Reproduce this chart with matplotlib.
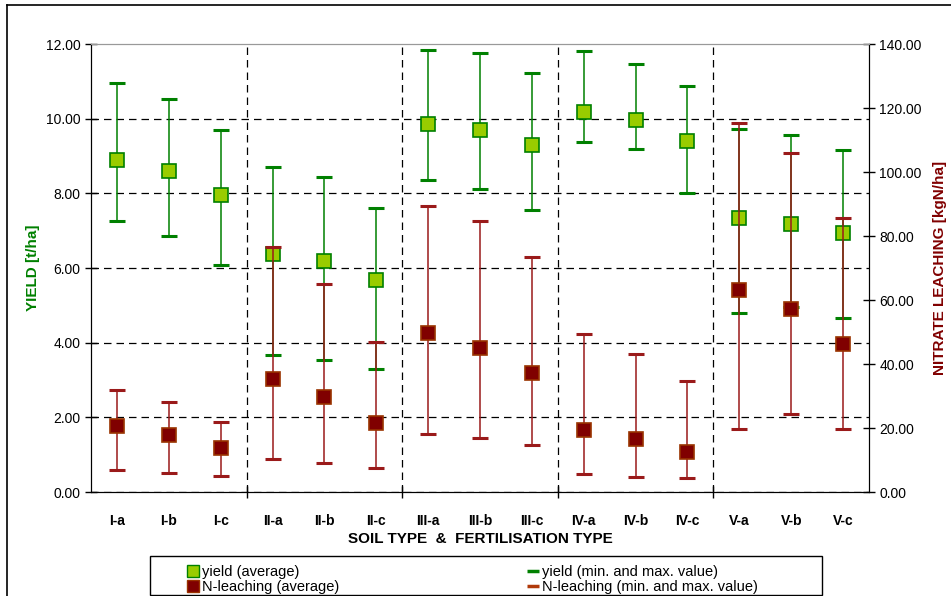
import numpy as np
import matplotlib
matplotlib.use('Agg')
import matplotlib.pyplot as plt
from matplotlib.lines import Line2D
from matplotlib.patches import Rectangle
from matplotlib.ticker import FormatStrFormatter

matplotlib.rcParams['font.family'] = ['Liberation Sans Narrow', 'Liberation Sans', 'DejaVu Sans']

# Data
categories = ['I-a', 'I-b', 'I-c', 'II-a', 'II-b', 'II-c', 'III-a', 'III-b', 'III-c',
              'IV-a', 'IV-b', 'IV-c', 'V-a', 'V-b', 'V-c']
yield_avg = [8.90, 8.61, 7.95, 6.38, 6.20, 5.69, 9.85, 9.69, 9.29,
             10.17, 9.96, 9.39, 7.33, 7.19, 6.93]
yield_max = [10.96, 10.54, 9.70, 8.70, 8.45, 7.62, 11.83, 11.77, 11.22,
             11.81, 11.47, 10.87, 9.71, 9.55, 9.17]
yield_min = [7.27, 6.86, 6.08, 3.68, 3.54, 3.29, 8.37, 8.12, 7.56,
             9.38, 9.20, 8.02, 4.80, 4.95, 4.66]
leach_avg = [20.6, 17.8, 13.6, 35.4, 29.7, 21.5, 49.6, 44.9, 37.1,
             19.4, 16.6, 12.5, 63.2, 57.2, 46.1]
leach_max = [31.8, 28.0, 22.0, 76.5, 65.0, 46.8, 89.5, 84.6, 73.3,
             49.3, 43.1, 34.7, 115.4, 105.9, 85.6]
leach_min = [6.8, 6.0, 5.1, 10.4, 9.0, 7.4, 18.0, 16.8, 14.8,
             5.5, 4.8, 4.4, 19.8, 24.5, 19.8]

green = '#008000'
lime = '#99CC00'
dark_red = '#800000'
red_line = '#9A1A1A'
red_cap = '#B03A0A'

W, H = 951, 596
fig = plt.figure(figsize=(W / 100, H / 100), dpi=100)
ax = fig.add_axes([91 / W, 1 - 492 / H, (869 - 91) / W, (492 - 44) / H])
ax2 = ax.twinx()

x = np.arange(len(categories))
ya = np.array(yield_avg)
la = np.array(leach_avg)

# yield
ax.errorbar(x, ya, yerr=[ya - np.array(yield_min), np.array(yield_max) - ya],
            fmt='none', ecolor=green, elinewidth=1.1, capsize=5.5, capthick=2.2, zorder=3)
ax.plot(x, ya, 's', ms=10, mfc=lime, mec=green, mew=1.2, ls='none', zorder=4)

# N-leaching
eb2 = ax2.errorbar(x, la, yerr=[la - np.array(leach_min), np.array(leach_max) - la],
                   fmt='none', ecolor=red_line, elinewidth=1.1, capsize=5.5, capthick=2.2, zorder=3)
for c in eb2[1]:
    c.set_color(red_cap)
ax2.plot(x, la, 's', ms=10, mfc=dark_red, mec='#993300', mew=1.2, ls='none', zorder=4)

# axes
ax.set_xlim(-0.5, len(categories) - 0.5)
ax.set_ylim(0, 12)
ax2.set_ylim(0, 140)
ax.set_yticks(np.arange(0, 12.1, 2))
ax2.set_yticks(np.arange(0, 140.1, 20))
ax.yaxis.set_major_formatter(FormatStrFormatter('%.2f'))
ax2.yaxis.set_major_formatter(FormatStrFormatter('%.2f'))

ax.set_xticks([2.5, 5.5, 8.5, 11.5])
ax.set_xticklabels([])
ax.set_xticks(x, minor=True)
ax.set_xticklabels(categories, minor=True, fontweight='bold', fontsize=10)
ax.tick_params(axis='x', which='minor', length=0, pad=16)
ax.tick_params(axis='x', which='major', direction='inout', length=9, width=1)
ax.tick_params(axis='y', direction='inout', length=9, width=1, labelsize=10, pad=3)
ax2.tick_params(axis='y', direction='inout', length=9, width=1, labelsize=10, pad=3)

ax.grid(True, which='major', color='black', linestyle=(0, (6, 4)), linewidth=0.9)
ax.set_axisbelow(True)
ax.yaxis.get_gridlines()[-1].set_visible(False)

for a in (ax, ax2):
    a.spines['top'].set_color('#999999')
    a.spines['left'].set_color('black')
    a.spines['right'].set_color('black')
    a.spines['bottom'].set_color('black')

ax.set_ylabel('YIELD [t/ha]', color=green, fontweight='bold', fontsize=11, labelpad=4)
ax2.set_ylabel('NITRATE LEACHING [kgN/ha]', color=dark_red, fontweight='bold', fontsize=11, labelpad=8)
ax.set_xlabel('SOIL TYPE  &  FERTILISATION TYPE', fontweight='bold', fontsize=11, labelpad=3)

# outer chart frame
fig.add_artist(Line2D([7 / W, 7 / W], [0, 1 - 5 / H], color='black', lw=1.2, transform=fig.transFigure))
fig.add_artist(Line2D([7 / W, 1], [1 - 5 / H, 1 - 5 / H], color='black', lw=1.2, transform=fig.transFigure))

# legend box
fig.add_artist(Rectangle((150 / W, 1 - 595 / H), (822 - 150) / W, (595 - 556) / H,
                         fill=False, edgecolor='black', lw=1, transform=fig.transFigure))
h1 = [Line2D([], [], marker='s', ms=8, mfc=lime, mec=green, ls='none'),
      Line2D([], [], marker='s', ms=8, mfc=dark_red, mec='#993300', ls='none')]
h2 = [Line2D([], [], marker='_', ms=8, mew=2.5, color=green, ls='none'),
      Line2D([], [], marker='_', ms=8, mew=2.5, color=red_cap, ls='none')]
leg_kw = dict(frameon=False, fontsize=10.5, handlelength=0.8, handletextpad=0.2,
              labelspacing=0.05, borderpad=0, loc='upper left')
fig.legend(h1, ['yield (average)', 'N-leaching (average)'],
           bbox_to_anchor=(180 / W, 1 - 558 / H), **leg_kw)
fig.legend(h2, ['yield (min. and max. value)', 'N-leaching (min. and max. value)'],
           bbox_to_anchor=(520 / W, 1 - 558 / H), **leg_kw)

fig.savefig('out.png', dpi=100)
